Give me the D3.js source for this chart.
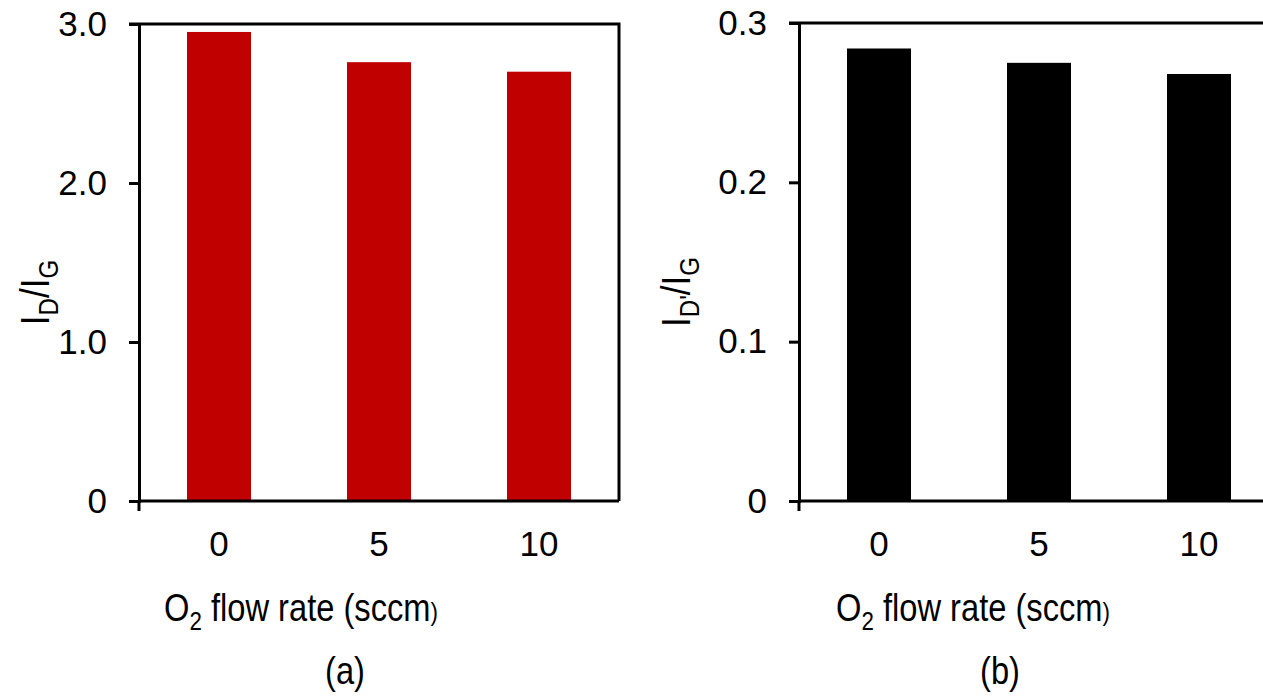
<!DOCTYPE html>
<html>
<head>
<meta charset="utf-8">
<script src="https://cdnjs.cloudflare.com/ajax/libs/d3/7.8.5/d3.min.js"></script>
<style>
  body { margin: 0; background: #fff; }
  text { font-family: "Liberation Sans", Arial, sans-serif; fill: #000; }
</style>
</head>
<body>
<svg id="chart" width="1263" height="697"></svg>
<script>
const flowRates = ["0", "5", "10"];
const idIg = [2.95, 2.76, 2.70];
const idpIg = [0.284, 0.275, 0.268];
const ticksA = [0, 1, 2, 3];
const ticksB = [0, 0.1, 0.2, 0.3];

const svg = d3.select("#chart");
const squeeze = 0.86; // reference text is a little condensed

function drawPanel(opts) {
  const { left, top, bottom, w, values, ticks, max, fmt, color, ylab, ylabX, letter, titleX, letterX } = opts;

  const x = d3.scaleBand()
    .domain(flowRates)
    .range([left, left + w])
    .paddingInner(0.6)
    .paddingOuter(0.3);

  const y = d3.scaleLinear()
    .domain([0, max])
    .range([bottom, top]);

  // bars
  svg.append("g").selectAll("rect")
    .data(values)
    .join("rect")
    .attr("x", (d, i) => x(flowRates[i]))
    .attr("y", d => y(d))
    .attr("width", x.bandwidth())
    .attr("height", d => bottom - y(d))
    .attr("fill", color);

  // frame: top and right border
  svg.append("path")
    .attr("d", `M${left - 10},${top}H${left + w}V${bottom}`)
    .attr("fill", "none")
    .attr("stroke", "#000")
    .attr("stroke-width", 3);

  // y axis
  const ya = svg.append("g")
    .attr("transform", `translate(${left},0)`)
    .call(d3.axisLeft(y).tickValues(ticks).tickFormat(fmt).tickSize(10).tickPadding(22));
  ya.select(".domain").attr("stroke-width", 3);
  ya.selectAll(".tick line").attr("stroke-width", 3);
  ya.selectAll("text").style("font-size", "35px").attr("font-family", null);

  // x axis
  const xa = svg.append("g")
    .attr("transform", `translate(0,${bottom})`)
    .call(d3.axisBottom(x).tickSize(0).tickPadding(30));
  xa.select(".domain").attr("d", `M${left},0H${left + w}`).attr("stroke-width", 3);
  xa.selectAll("text").style("font-size", "35px").attr("font-family", null);
  xa.append("line")
    .attr("x1", left).attr("x2", left)
    .attr("y1", -1).attr("y2", 10)
    .attr("stroke", "#000").attr("stroke-width", 3);

  // x title
  const xt = svg.append("text")
    .attr("transform", `translate(${titleX},621) scale(${squeeze},1)`)
    .attr("text-anchor", "middle")
    .style("font-size", "38px");
  xt.append("tspan").text("O");
  xt.append("tspan").attr("dy", 9).style("font-size", "26px").text("2");
  xt.append("tspan").attr("dy", -9).text(" flow rate (sccm");
  xt.append("tspan").style("font-size", "26px").text(")");

  // y title
  const yt = svg.append("text")
    .attr("transform", `translate(${ylabX},${(top + bottom) / 2 + 30}) rotate(-90) scale(${squeeze},1)`)
    .attr("text-anchor", "middle")
    .style("font-size", "41px");
  yt.append("tspan").text("I");
  yt.append("tspan").attr("dy", 9).style("font-size", "28px").text(ylab);
  yt.append("tspan").attr("dy", -9).text("/I");
  yt.append("tspan").attr("dy", 9).style("font-size", "28px").text("G");

  // panel letter
  svg.append("text")
    .attr("transform", `translate(${letterX},684) scale(${squeeze},1)`)
    .attr("text-anchor", "middle")
    .style("font-size", "38px")
    .text(letter);
}

drawPanel({
  left: 139, top: 24, bottom: 501, w: 480,
  values: idIg, ticks: ticksA, max: 3,
  fmt: d => d === 0 ? "0" : d3.format(".1f")(d),
  color: "#c00000", ylab: "D", ylabX: 49, letter: "(a)", titleX: 301, letterX: 345
});

drawPanel({
  left: 799, top: 23, bottom: 501, w: 480,
  values: idpIg, ticks: ticksB, max: 0.3,
  fmt: d => d === 0 ? "0" : d3.format(".1f")(d),
  color: "#000", ylab: "D'", ylabX: 690, letter: "(b)", titleX: 973, letterX: 1000
});
</script>
</body>
</html>
